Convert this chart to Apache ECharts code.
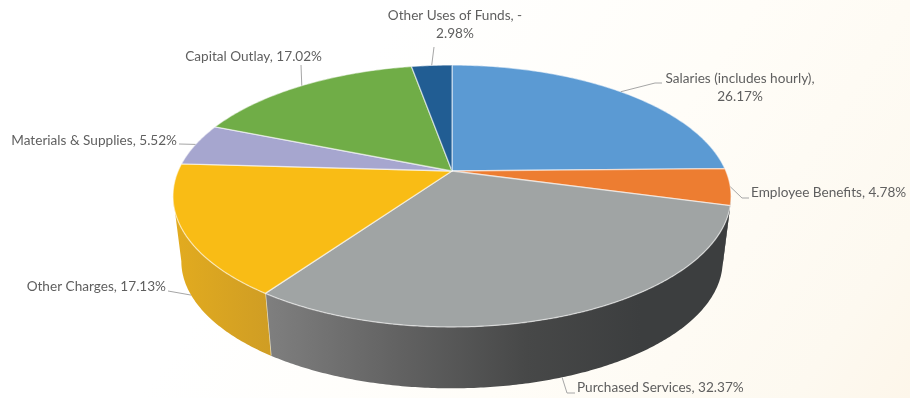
<!DOCTYPE html>
<html>
<head>
<meta charset="utf-8">
<style>html,body{margin:0;padding:0;background:#fff}#chart{width:910px;height:398px}</style>
<script src="https://cdn.jsdelivr.net/npm/echarts@6/dist/echarts.min.js"></script>
</head>
<body>
<div id="chart"></div>
<script>
// Expenditures by function, shares in percent.
const categories = ['Salaries (includes hourly)', 'Employee Benefits', 'Purchased Services', 'Other Charges', 'Materials & Supplies', 'Capital Outlay', 'Other Uses of Funds'];
const values = [26.17, 4.78, 32.37, 17.13, 5.52, 17.02, -2.98];
const wrappedLabels = [true, false, false, false, false, false, true];

const topColors = ['#5b9ad3', '#ed7d31', '#a0a4a4', '#f9bc15', '#a6a6cf', '#70ad47', '#215d93'];

// Perspective disc model: clockwise angle from 12 o'clock maps to the screen.
const cx = 452, topCy = 171, lowCy = 237, lowScale = 0.97;
const persp = 0.191, radX = 273.9, radY = 126.2;
// Angles where the rim turns back on itself; the side wall shows only between them.
const wallFrom = Math.acos(-persp), wallTo = Math.PI * 2 - wallFrom;

// Radial leader end and elbow, plus text anchor, for each slice label.
const labelLayout = [
  { rim: 'top', leader: [[655, 83], [662, 83]], x: 740, y: 88, align: 'center' },
  { rim: 'top', leader: [[742, 198], [749, 198]], x: 751, y: 193, align: 'left' },
  { rim: 'low', leader: [[567, 393], [575, 393]], x: 577, y: 388, align: 'left' },
  { rim: 'low', leader: [[168, 291]], x: 166, y: 287, align: 'right' },
  { rim: 'top', leader: [[179, 144]], x: 177, y: 141, align: 'right' },
  { rim: 'top', leader: [[301, 65]], x: 322, y: 57, align: 'right' },
  { rim: 'top', leader: [[434, 47]], x: 455, y: 25, align: 'center' }
];

const total = values.reduce((s, v) => s + Math.abs(v), 0);
const starts = [];
values.reduce((s, v, i) => { starts[i] = s; return s + Math.abs(v); }, 0);
const toAngle = v => v / total * Math.PI * 2;

function rimPoint(theta, low) {
  const d = 1 + persp * Math.cos(theta);
  const s = low ? lowScale : 1;
  const y = low ? lowCy : topCy;
  return [cx + s * radX * Math.sin(theta) / d, y - s * radY * Math.cos(theta) / d];
}
function arcPoints(a, b, low) {
  const n = Math.max(2, Math.ceil((b - a) / 0.01));
  const pts = [];
  for (let i = 0; i <= n; i++) pts.push(rimPoint(a + (b - a) * i / n, low));
  return pts;
}
function sliceRange(i) {
  return [toAngle(starts[i]), toAngle(starts[i] + Math.abs(values[i]))];
}
function labelText(i) {
  const v = values[i], wrap = wrappedLabels[i], neg = v < 0;
  return categories[i] + ',' + (wrap && !neg ? '\n' : ' ') + (neg ? '-' : '') + (wrap && neg ? '\n' : '') + Math.abs(v).toFixed(2) + '%';
}

const wallFills = [
  null,
  '#3c3e3f',
  new echarts.graphic.LinearGradient(262, 0, 640, 0, [
    { offset: 0, color: '#808080' }, { offset: 0.35, color: '#636363' },
    { offset: 0.7, color: '#474848' }, { offset: 1, color: '#3c3e3f' }
  ], true),
  new echarts.graphic.LinearGradient(175, 0, 271, 0, [
    { offset: 0, color: '#e2ab1f' }, { offset: 1, color: '#cf9d24' }
  ], true)
];

function renderWall(params) {
  const i = params.dataIndex;
  const fill = wallFills[i];
  if (!fill) return { type: 'group', children: [] };
  const [start, end] = sliceRange(i);
  const a = Math.max(start, wallFrom), b = Math.min(end, wallTo);
  const points = arcPoints(a, b, false).concat(arcPoints(a, b, true).reverse());
  const children = [{ type: 'polygon', shape: { points }, style: { fill, stroke: null } }];
  if (end > wallFrom + 0.1 && end < wallTo - 0.1) {
    const p = rimPoint(end, false), q = rimPoint(end, true);
    children.push({
      type: 'line',
      shape: { x1: p[0], y1: p[1], x2: q[0], y2: q[1] },
      style: { stroke: 'rgba(250,240,205,0.8)', lineWidth: 1.4 }
    });
  }
  return { type: 'group', children };
}

function renderTop(params) {
  const i = params.dataIndex;
  const [a, b] = sliceRange(i);
  const points = [[cx, topCy]].concat(arcPoints(a, b, false));
  return {
    type: 'polygon',
    shape: { points },
    style: { fill: topColors[i], stroke: 'rgba(255,255,255,0.55)', lineWidth: 1.3, lineJoin: 'round' }
  };
}

function renderLabel(params) {
  const i = params.dataIndex;
  const [a, b] = sliceRange(i);
  const layout = labelLayout[i];
  const start = rimPoint((a + b) / 2, layout.rim === 'low');
  return {
    type: 'group',
    children: [
      {
        type: 'polyline',
        shape: { points: [start].concat(layout.leader) },
        style: { fill: null, stroke: '#a6a6a6', lineWidth: 1 }
      },
      {
        type: 'text',
        style: {
          text: labelText(i), x: layout.x, y: layout.y,
          align: layout.align, verticalAlign: 'middle',
          fill: '#5f5f5f', font: '13.6px Lato', lineHeight: 18
        }
      }
    ]
  };
}

const chart = echarts.init(document.getElementById('chart'), null, { renderer: 'canvas' });
const layer = (renderItem, z) => ({
  type: 'custom', coordinateSystem: 'none', renderItem, z, silent: true,
  animation: false, data: values.map((v, i) => ({ name: categories[i], value: v }))
});
chart.setOption({
  animation: false,
  backgroundColor: new echarts.graphic.LinearGradient(0.42, 0.1, 1, 1, [
    { offset: 0, color: '#ffffff' }, { offset: 0.45, color: '#fffdf8' },
    { offset: 0.85, color: '#fdf9f0' }, { offset: 1, color: '#fdf6ea' }
  ]),
  series: [layer(renderWall, 1), layer(renderTop, 2), layer(renderLabel, 3)]
});
</script>
</body>
</html>
